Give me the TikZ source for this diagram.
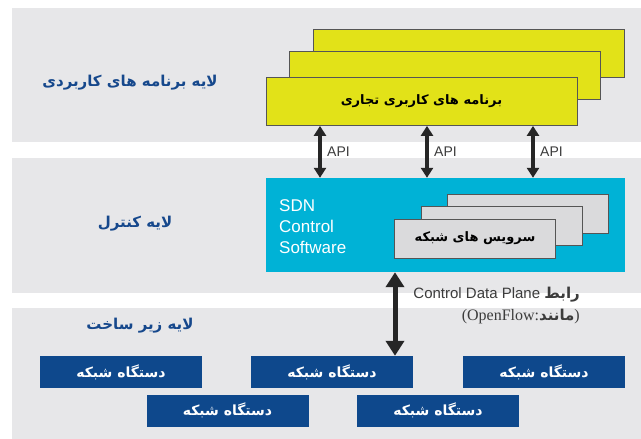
\documentclass[tikz,border=0pt]{standalone}
\usepackage{fontspec}
\setmainfont{Liberation Sans}
\newfontfamily\farsi[Script=Arabic]{DejaVu Sans}
\newfontfamily\latinserif{Liberation Serif}
\usetikzlibrary{arrows.meta}
\TeXXeTstate=1
\definecolor{bandgray}{RGB}{231,231,233}
\definecolor{appyellow}{RGB}{226,226,24}
\definecolor{boxedge}{RGB}{85,85,85}
\definecolor{sdncyan}{RGB}{0,178,214}
\definecolor{servgray}{RGB}{218,218,220}
\definecolor{devblue}{RGB}{14,72,140}
\definecolor{layerblue}{RGB}{22,72,140}
\definecolor{apigray}{RGB}{60,60,60}
\newcommand{\fatext}[1]{{\farsi\bfseries\beginR #1\endR}}
\tikzset{
	band/.style={fill=bandgray,inner sep=0pt,minimum width=629pt},
	appbox/.style={draw=boxedge,fill=appyellow,line width=0.8pt,inner sep=0pt,minimum width=311pt,minimum height=48pt},
	servbox/.style={draw=boxedge,fill=servgray,line width=0.8pt,inner sep=0pt,minimum width=161pt,minimum height=39pt},
	devbox/.style={fill=devblue,text=white,inner sep=0pt,minimum width=162pt,minimum height=32pt,font=\fontsize{14}{16}\selectfont},
	layerlabel/.style={text=layerblue,font=\fontsize{15}{18}\selectfont},
	apiarrow/.style={draw=black!85,line width=3.5pt,{Triangle[width=12pt,length=10pt]}-{Triangle[width=12pt,length=10pt]}},
	mainarrow/.style={draw=black!85,line width=5pt,{Triangle[width=18pt,length=15pt]}-{Triangle[width=18pt,length=15pt]}},
	apilabel/.style={text=apigray,anchor=west,inner sep=0pt,font=\fontsize{14}{16}\selectfont}
}
\begin{document}
\begin{tikzpicture}[x=1pt,y=-1pt]
	\useasboundingbox[fill=white] (0,0) rectangle (641,439);
	\node[band,minimum height=134pt] (appband) at (326.5,75) {};
	\node[band,minimum height=135pt] (ctrlband) at (326.5,225.5) {};
	\node[band,minimum height=131pt] (infraband) at (326.5,373.5) {};
	\node[layerlabel] (applayer) at (130,83) {\fatext{لایه برنامه های کاربردی}};
	\node[layerlabel] (ctrllayer) at (135,224) {\fatext{لایه کنترل}};
	\node[layerlabel] (infralayer) at (140,326) {\fatext{لایه زیر ساخت}};
	\node[appbox] (app3) at (468.5,53.5) {};
	\node[appbox] (app2) at (445,75) {};
	\node[appbox,font=\fontsize{13}{15}\selectfont] (app1) at (421.5,101.5) {\fatext{برنامه های کاربری تجاری}};
	\node[fill=sdncyan,inner sep=0pt,minimum width=359pt,minimum height=94pt] (sdn) at (445.5,225) {};
	\node[anchor=north west,text=white,align=left,inner sep=0pt,font=\fontsize{17}{21}\selectfont] (sdntext) at (279,199) {SDN\\Control\\Software};
	\node[servbox] (serv3) at (527.5,213.5) {};
	\node[servbox] (serv2) at (501.5,226) {};
	\node[servbox,font=\fontsize{13}{15}\selectfont] (serv1) at (475,238.5) {\fatext{سرویس های شبکه}};
	\node[devbox] (dev1) at (121,372) {\fatext{دستگاه شبکه}};
	\node[devbox] (dev2) at (332,372) {\fatext{دستگاه شبکه}};
	\node[devbox] (dev3) at (544,372) {\fatext{دستگاه شبکه}};
	\node[devbox] (dev4) at (227.5,410.5) {\fatext{دستگاه شبکه}};
	\node[devbox] (dev5) at (438,410.5) {\fatext{دستگاه شبکه}};
	\coordinate (p1) at (320,0);
	\coordinate (p2) at (427,0);
	\coordinate (p3) at (533,0);
	\coordinate (p4) at (395,0);
	\draw[apiarrow] (p1 |- app1.south) -- (p1 |- sdn.north);
	\draw[apiarrow] (p2 |- app1.south) -- (p2 |- sdn.north);
	\draw[apiarrow] (p3 |- app1.south) -- (p3 |- sdn.north);
	\node[apilabel] (api1) at (327,152) {API};
	\node[apilabel] (api2) at (434,152) {API};
	\node[apilabel] (api3) at (540,152) {API};
	\draw[mainarrow] (p4 |- sdn.south) -- (p4 |- dev2.north);
	\node[anchor=north east,align=right,inner sep=0pt,text=apigray,font=\fontsize{15}{22}\selectfont] (iface) at (580,287) {Control Data Plane \fatext{رابط}\\{\latinserif\fontsize{16}{22}\selectfont(OpenFlow:}\fatext{مانند}{\latinserif\fontsize{16}{22}\selectfont)}};
\end{tikzpicture}
\end{document}
